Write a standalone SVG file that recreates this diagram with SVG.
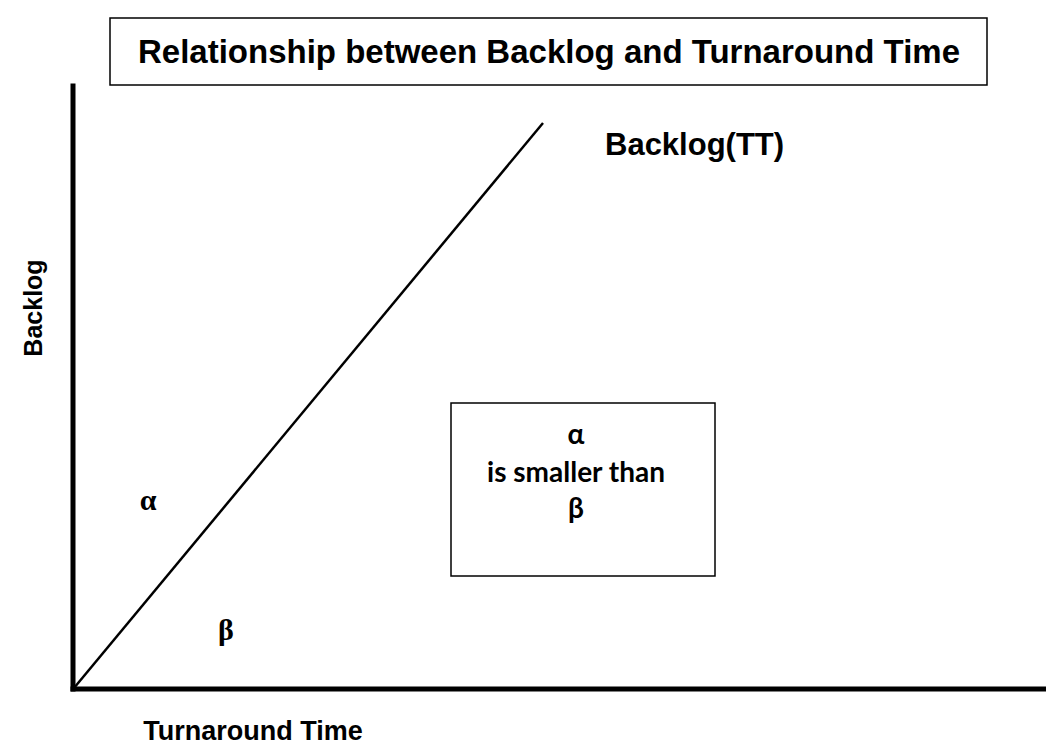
<svg xmlns="http://www.w3.org/2000/svg" width="1046" height="749" viewBox="0 0 1046 749">
  <style>
    .lbl { font-family: "Liberation Sans", Arial, sans-serif; font-weight: bold; font-size: 27px; fill: #000; }
    .ylbl { font-family: "Liberation Sans", Arial, sans-serif; font-weight: bold; font-size: 25px; fill: #000; }
    .series { font-family: "Liberation Sans", Arial, sans-serif; font-weight: bold; font-size: 31px; fill: #000; }
    .title { font-family: "Liberation Sans", Arial, sans-serif; font-weight: bold; font-size: 33px; fill: #000; }
    .greek { font-family: "Liberation Serif", "Times New Roman", serif; font-weight: bold; font-size: 30px; fill: #000; }
    .note { font-family: "Lato", "Open Sans", sans-serif; font-weight: bold; font-size: 28px; fill: #000; }
    .box { fill: #fff; stroke: #000; stroke-width: 1.5; }
    .axis { stroke: #000; stroke-width: 5; stroke-linecap: square; fill: none; }
    .curve { stroke: #000; stroke-width: 2.5; fill: none; }
  </style>
  <rect width="1046" height="749" fill="#fff"/>

  <!-- title -->
  <g id="title">
    <rect class="box" x="110" y="18" width="877" height="67"/>
    <text class="title" x="549" y="63" text-anchor="middle">Relationship between Backlog and Turnaround Time</text>
  </g>

  <!-- axes and line -->
  <g id="connectors">
    <line class="axis" x1="73" y1="86" x2="73" y2="689"/>
    <line class="axis" x1="73" y1="689" x2="1046" y2="689"/>
    <line class="curve" x1="74" y1="688" x2="543" y2="123"/>
  </g>

  <g id="y-label">
    <text class="ylbl" transform="translate(42 308) rotate(-90)" text-anchor="middle">Backlog</text>
  </g>
  <g id="x-label">
    <text class="lbl" x="253" y="740" text-anchor="middle">Turnaround Time</text>
  </g>
  <g id="series-label">
    <text class="series" x="605" y="155">Backlog(TT)</text>
  </g>

  <g id="alpha">
    <text class="greek" x="148" y="510" text-anchor="middle">α</text>
  </g>
  <g id="beta">
    <text class="greek" x="226" y="640" text-anchor="middle">β</text>
  </g>

  <g id="note">
    <rect class="box" x="451" y="403" width="264" height="173"/>
    <text class="note" x="576" y="444" text-anchor="middle">α</text>
    <text class="note" x="576" y="482" text-anchor="middle">is smaller than</text>
    <text class="note" x="576" y="518" text-anchor="middle">β</text>
  </g>
</svg>
